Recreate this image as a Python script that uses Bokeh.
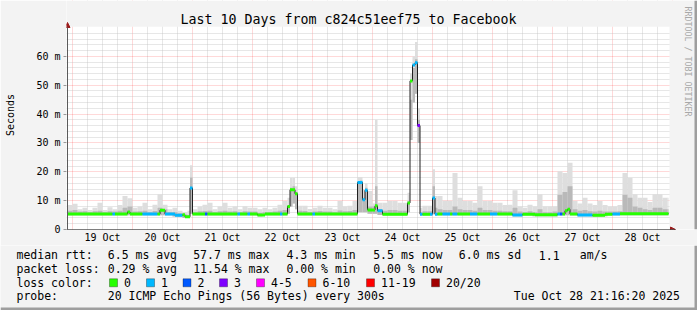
import datetime as dt
from bokeh.plotting import figure
from bokeh.models import (ColumnDataSource, FixedTicker, DatetimeTickFormatter, Label,
                          BoxAnnotation, Arrow, NormalHead, Range1d)
from bokeh.embed import file_html
from bokeh.resources import INLINE

# ---------------- data (hours relative to 19 Oct 2025 00:00) ----------------
# median RTT, stepped segments: start hour, value (ms), lost pings
med_t = [-2, 16, 17, 22, 23, 28, 34, 35, 37, 41, 44, 45, 47, 48, 53, 54, 66, 67, 70, 71,
         74, 77, 83, 84, 86, 87, 89, 90, 96, 97, 114, 116, 117, 118, 121, 122, 124, 134, 135, 136,
         137, 138, 139, 140, 143, 144, 145, 146, 148, 151, 152, 154, 159, 162, 167, 170, 176, 180, 185, 194,
         195, 196, 197, 198, 199, 202, 208, 213, 216, 219]
med_end = 238.4
med_val = [5.4, 5.4, 5.4, 6.1, 5.4, 5.4, 5.4, 6.7, 5.4, 4.9, 5.1, 4.4, 14.4, 5.4, 5.4, 5.4, 5.4, 5.4, 5.4, 5.4,
           5.0, 5.4, 5.4, 5.4, 8.0, 13.8, 12.4, 5.4, 5.4, 5.4, 16.3, 10.3, 13.6, 6.8, 8.2, 6.5, 5.3, 9.2, 51.5, 57.0,
           57.8, 36.0, 5.3, 5.3, 5.3, 10.9, 5.3, 5.4, 5.4, 5.4, 5.4, 5.4, 5.4, 5.4, 5.4, 5.4, 5.0, 5.3, 5.1, 5.4,
           5.4, 5.4, 6.5, 7.0, 5.4, 5.0, 4.9, 5.3, 5.4, 5.5]
med_loss = [0, 1, 0, 0, 0, 1, 0, 0, 1, 1, 0, 0, 1, 0, 2, 0, 1, 0, 1, 0,
            0, 0, 1, 0, 0, 0, 0, 0, 1, 0, 1, 1, 1, 0, 0, 1, 0, 0, 0, 1,
            1, 3, 1, 0, 1, 1, 1, 0, 1, 0, 1, 0, 1, 0, 1, 0, 1, 0, 0, 1,
            2, 0, 0, 0, 0, 1, 0, 0, 1, 0]

# smoke (ping spread): start hour, low, upper-quartile, max (ms)
smk_t = [-2, 0, 2, 4, 6, 8, 10, 12, 14, 16, 18, 20, 22, 24, 26, 28, 30, 32, 34, 36, 38, 40, 42, 44,
         46, 47, 48, 50, 52, 54, 56, 58, 60, 62, 64, 66, 68, 70, 72, 74, 76, 78, 80, 82, 84,
         86, 87, 88, 89, 90, 92, 94, 96, 98, 100, 102, 104, 106, 108, 110, 112, 114, 115, 116, 117, 118, 120, 121,
         122, 124, 126, 128, 130, 132, 134, 135, 136, 137, 138, 139, 140, 142, 144, 145, 146,
         148, 150, 152, 154, 156, 158, 160, 162, 164, 166, 168, 170, 172, 174, 176, 178, 180, 182, 184, 186,
         188, 190, 192, 194, 196, 198, 200, 202, 204, 206, 208, 210, 212, 214, 216, 218, 220, 222, 224, 226,
         228, 230, 232, 234, 236, 238]
smk_end = 238.4
smk_lo = [4.9, 4.9, 4.9, 4.9, 4.9, 4.9, 4.9, 4.9, 4.9, 4.9, 4.9, 4.9, 4.9, 4.9, 4.9, 4.9, 4.9, 4.9, 4.9, 4.9, 4.9, 4.5, 4.4, 4.0,
          4.0, 5.5, 4.9, 4.9, 4.9, 4.9, 4.9, 4.9, 4.9, 4.9, 4.9, 4.9, 4.9, 4.9, 4.9, 4.6, 4.9, 4.9, 4.9, 4.9, 4.9,
          5.5, 8.0, 9.0, 7.0, 4.9, 4.9, 4.9, 4.9, 4.9, 4.9, 4.9, 4.9, 4.9, 4.9, 4.9, 4.9, 6.0, 6.0, 6.0, 6.0, 5.5, 5.5, 5.5,
          5.0, 4.9, 4.9, 4.9, 4.9, 4.9, 6.0, 31.0, 44.0, 47.0, 30.0, 4.9, 4.9, 4.9, 5.3, 4.9, 4.9,
          4.9, 4.9, 4.9, 4.9, 4.9, 4.9, 4.9, 4.9, 4.9, 4.9, 4.9, 4.9, 4.9, 4.9, 4.6, 4.6, 4.9, 4.9, 4.6, 4.6,
          4.6, 4.6, 4.6, 4.9, 4.9, 4.9, 4.9, 4.6, 4.6, 4.6, 4.5, 4.5, 4.6, 4.9, 4.9, 4.9, 4.9, 4.9, 4.9, 4.9,
          4.9, 4.9, 4.9, 4.9, 4.9, 4.9]
smk_mid = [6.5, 6.8, 6.2, 6.3, 6.0, 6.3, 6.5, 6.0, 6.3, 6.2, 6.5, 7.5, 8.0, 6.2, 6.3, 6.5, 6.0, 6.4, 7.5, 7.0, 6.0, 6.0, 5.6, 5.2,
           5.0, 18.0, 6.0, 6.3, 6.4, 6.5, 6.0, 6.3, 6.5, 6.2, 6.3, 6.0, 6.3, 6.2, 6.2, 5.8, 6.0, 6.0, 6.2, 6.5, 6.8,
           8.5, 14.5, 15.0, 13.0, 6.5, 6.4, 6.0, 6.2, 6.4, 6.2, 6.2, 6.0, 6.6, 6.3, 6.4, 6.8, 16.0, 17.0, 11.0, 14.5, 8.0, 8.0, 15.0,
           7.0, 6.5, 6.8, 6.8, 6.5, 6.5, 10.0, 45.0, 56.0, 59.0, 38.0, 6.0, 6.3, 6.3, 15.0, 7.5, 7.0,
           6.8, 6.8, 8.0, 7.0, 6.8, 6.8, 6.5, 7.5, 6.8, 6.8, 6.5, 6.5, 6.3, 6.3, 7.5, 6.2, 6.0, 6.3, 6.0, 7.0,
           6.0, 6.0, 6.2, 12.0, 13.0, 15.0, 7.0, 6.5, 6.8, 6.3, 6.2, 6.5, 6.2, 6.2, 6.2, 6.3, 12.0, 11.0, 8.0, 7.5,
           7.0, 6.8, 7.5, 7.5, 7.0, 7.0]
smk_hi = [8.5, 8.9, 7.0, 7.5, 6.8, 7.5, 9.3, 6.8, 7.7, 7.0, 8.5, 11.6, 10.8, 7.5, 8.0, 9.3, 7.0, 8.6, 12.2, 8.6, 7.0, 7.5, 6.5, 6.0,
          6.5, 22.3, 7.0, 8.0, 8.6, 9.3, 7.0, 8.0, 9.3, 7.5, 8.0, 7.0, 8.1, 7.5, 7.5, 7.0, 7.5, 7.0, 7.5, 8.6, 9.9,
          11.0, 17.9, 17.9, 15.0, 8.2, 8.2, 7.1, 7.5, 8.2, 7.5, 7.5, 7.0, 9.9, 8.0, 8.2, 9.9, 18.2, 18.2, 14.0, 16.0, 13.3, 9.0, 38.0,
          9.3, 9.3, 9.9, 9.9, 9.3, 9.3, 12.7, 54.0, 60.0, 65.0, 42.0, 7.5, 8.2, 8.2, 20.9, 11.6, 11.6,
          10.0, 10.0, 19.6, 11.0, 9.9, 9.9, 9.3, 15.0, 9.9, 9.9, 9.3, 9.3, 8.5, 8.6, 13.6, 8.0, 7.5, 8.6, 8.0, 12.2,
          8.0, 8.0, 8.0, 20.2, 19.6, 23.1, 9.9, 9.0, 11.0, 9.0, 8.5, 9.9, 8.5, 8.0, 8.0, 8.5, 19.6, 17.9, 12.2, 11.0,
          11.0, 9.5, 12.2, 12.2, 11.0, 11.0]

day_labels_noon = [12 + 24 * d for d in range(10)]   # 19 Oct .. 28 Oct, at noon
y_ticks = [0, 10, 20, 30, 40, 50, 60]
y_tick_text = ["0", "10 m", "20 m", "30 m", "40 m", "50 m", "60 m"]

loss_labels = ["0", "1", "2", "3", "4-5", "6-10", "11-19", "20/20"]
loss_colors = ["#26ff00", "#00b8ff", "#0059ff", "#7e00ff", "#ff00ff", "#ff5500", "#ff0000", "#a10000"]

title_text = "Last 10 Days from c824c51eef75 to Facebook"
rtt_stats = ["6.5 ms avg", "57.7 ms max", "4.3 ms min", "5.5 ms now", "6.0 ms sd", "1.1", "am/s"]
loss_stats = ["0.29 % avg", "11.54 % max", "0.00 % min", "0.00 % now"]
probe_text = "20 ICMP Echo Pings (56 Bytes) every 300s"
stamp_text = "Tue Oct 28 21:16:20 2025"
watermark = "RRDTOOL / TOBI OETIKER"

# ---------------- helpers ----------------
EPOCH = dt.datetime(1970, 1, 1)
BASE = dt.datetime(2025, 10, 19)


def ms(h):
    return (BASE + dt.timedelta(hours=h) - EPOCH).total_seconds() * 1000.0


FONT = "DejaVu Sans Mono"
BG = "#f3f3f3"
EDGE = "#9e9e9e"
W, H_TOP, H_LEG = 697, 245, 65
FL, FR, FT, FB = 66, 697, 0, 229            # frame edges (canvas px) of the chart figure
PX_H = 2.5                                  # px per hour
PX_MS = 202.0 / 70.0                        # px per ms
h_first = -2.0                              # data start (x = 67 px)


def hx(px):          # canvas px -> hour
    return h_first + (px - 67) / PX_H


x_lo, x_hi = hx(FL), hx(FR)
y_hi = 70 + (27 - FT) / PX_MS

p = figure(width=W, height=H_TOP, x_axis_type="datetime", output_backend="svg", toolbar_location=None,
           x_range=Range1d(ms(x_lo), ms(x_hi)), y_range=Range1d(0, y_hi),
           min_border_left=FL, min_border_right=W - FR, min_border_top=FT, min_border_bottom=H_TOP - FB,
           background_fill_color="white", border_fill_color=BG, outline_line_color=None)

# grids
p.xgrid.ticker = FixedTicker(ticks=[ms(24 * d) for d in range(11)],
                             minor_ticks=[ms(h) for h in range(-6, 246, 6) if h % 24 != 0])
p.xgrid.grid_line_color = "#ff0000"
p.xgrid.grid_line_alpha = 0.3
p.xgrid.grid_line_dash = "1 1"
p.xgrid.minor_grid_line_color = "#bdbdbd"
p.xgrid.minor_grid_line_alpha = 0.75
p.xgrid.minor_grid_line_dash = "1 1"
p.ygrid.ticker = FixedTicker(ticks=[10, 20, 30, 40, 50, 60],
                             minor_ticks=[v for v in range(2, 72, 2) if v % 10 != 0])
p.ygrid.grid_line_color = "#ff0000"
p.ygrid.grid_line_alpha = 0.3
p.ygrid.grid_line_dash = "1 1"
p.ygrid.minor_grid_line_color = "#bdbdbd"
p.ygrid.minor_grid_line_alpha = 0.75
p.ygrid.minor_grid_line_dash = "1 1"

# smoke
smk_right = smk_t[1:] + [smk_end]
ssrc = ColumnDataSource(dict(left=[ms(t) for t in smk_t], right=[ms(t) for t in smk_right],
                             lo=smk_lo, mid=smk_mid, hi=smk_hi))
p.quad(left="left", right="right", bottom="lo", top="hi", source=ssrc,
       fill_color="#dedede", line_color=None)
p.quad(left="left", right="right", bottom="lo", top="mid", source=ssrc,
       fill_color="#b9b9b9", line_color=None)

# median line (black step) + loss coloured band
med_right = med_t[1:] + [med_end]
xs, ys = [], []
for a, b, v in zip(med_t, med_right, med_val):
    xs += [ms(a), ms(b)]
    ys += [v, v]
p.line(xs, ys, line_color="#202020", line_width=1)
msrc = ColumnDataSource(dict(x0=[ms(t) for t in med_t], x1=[ms(t) for t in med_right],
                             y=med_val, c=[loss_colors[l] for l in med_loss]))
p.segment(x0="x0", y0="y", x1="x1", y1="y", source=msrc, line_color="c", line_width=3)

# grey margins inside the frame (room for arrows, title and watermark)
p.add_layout(BoxAnnotation(bottom=70.25, fill_color=BG, fill_alpha=1, line_alpha=0))
p.add_layout(BoxAnnotation(left=ms(hx(669)), fill_color=BG, fill_alpha=1, line_alpha=0))
p.add_layout(BoxAnnotation(right=ms(hx(66.6)), fill_color=BG, fill_alpha=1, line_alpha=0))
p.add_layout(BoxAnnotation(left=ms(hx(W - 3)), fill_color=EDGE, fill_alpha=1, line_alpha=0))

# axis arrows
p.add_layout(Arrow(end=NormalHead(size=5, fill_color="#9b1c1c", line_color="#9b1c1c"),
                   x_start=ms(h_first), y_start=0, x_end=ms(h_first), y_end=70 + 5 / PX_MS,
                   line_color="#5a5a5a", line_width=1))
p.add_layout(Arrow(end=NormalHead(size=5, fill_color="#9b1c1c", line_color="#9b1c1c"),
                   x_start=ms(x_lo), y_start=0, x_end=ms(hx(675)), y_end=0,
                   line_color="#000000", line_width=1))

# axes
xa = p.xaxis[0]
xa.ticker = FixedTicker(ticks=[ms(h) for h in day_labels_noon])
xa.formatter = DatetimeTickFormatter(microseconds="%d %b", milliseconds="%d %b", seconds="%d %b",
                                     minsec="%d %b", minutes="%d %b", hourmin="%d %b", hours="%d %b",
                                     days="%d %b", months="%d %b", years="%d %b")
xa.major_tick_line_color = None
xa.minor_tick_line_color = None
xa.major_tick_out = 0
xa.major_tick_in = 0
xa.minor_tick_out = 0
xa.minor_tick_in = 0
xa.axis_line_color = None
xa.major_label_standoff = 2
xa.major_label_text_font = FONT
xa.major_label_text_font_size = "10px"
xa.major_label_text_color = "#000000"

ya = p.yaxis[0]
ya.ticker = FixedTicker(ticks=y_ticks)
ya.major_label_overrides = {t: s for t, s in zip(y_ticks, y_tick_text)}
ya.major_tick_in = 0
ya.major_tick_out = 3
ya.minor_tick_out = 0
ya.minor_tick_in = 0
ya.major_tick_line_color = "#999999"
ya.minor_tick_line_color = None
ya.axis_line_color = None
ya.major_label_standoff = 3
ya.major_label_text_font = FONT
ya.major_label_text_font_size = "10px"
ya.major_label_text_color = "#000000"
ya.axis_label = "Seconds"
ya.axis_label_text_font = FONT
ya.axis_label_text_font_size = "10px"
ya.axis_label_text_font_style = "normal"
ya.axis_label_text_color = "#000000"
ya.axis_label_standoff = 17


def plabel(x, y, text, size, color="#000000", align="left", angle=0):
    # x, y: canvas pixels; placed in frame-relative screen units
    p.add_layout(Label(x=x - FL, y=FB - y, x_units="screen", y_units="screen", text=text,
                       text_font=FONT, text_font_size=size, text_color=color,
                       text_align=align, text_baseline="middle", angle=angle, angle_units="deg"))


plabel(348, 19, title_text, "13.3px", align="center")
plabel(687, 61, watermark, "8.3px", color="#a8a8a8", align="center", angle=-90)

# ---------------- legend strip (its frame covers the whole canvas) ----------------
q = figure(width=W, height=H_LEG, output_backend="svg", toolbar_location=None,
           x_range=Range1d(0, W), y_range=Range1d(H_LEG, 0),
           x_axis_location=None, y_axis_location=None,
           min_border=0, min_border_left=0, min_border_right=0, min_border_top=0, min_border_bottom=0,
           background_fill_color=BG, border_fill_color=BG, outline_line_color=None)
q.grid.visible = False
Y0 = H_TOP


def label(x, y, text, size="11.5px"):
    q.add_layout(Label(x=x, y=y - Y0, text=text, text_font=FONT, text_font_size=size,
                       text_color="#000000", text_align="left", text_baseline="middle"))


rows_y = [254.7, 268.3, 282.3, 295.7]
label(16, rows_y[0], "median rtt:")
for x, s in zip([107.3, 192.7, 286, 372.7, 458.3, 538.3, 579.3], rtt_stats):
    label(x, rows_y[0], s)
label(16, rows_y[1], "packet loss:")
for x, s in zip([107.3, 192.7, 286, 372.7], loss_stats):
    label(x, rows_y[1], s)
label(16, rows_y[2], "loss color:")
for x, s, c in zip([109, 146, 182.5, 219, 256, 307.5, 366, 431], loss_labels, loss_colors):
    q.add_layout(BoxAnnotation(left=x, right=x + 8, top=rows_y[2] - 4 - Y0, bottom=rows_y[2] + 4 - Y0,
                               fill_color=c, fill_alpha=1, line_color="#000000", line_width=1))
    label(x + 14.5, rows_y[2], s)
label(16, rows_y[3], "probe:")
label(107.3, rows_y[3], probe_text)
label(513.3, rows_y[3], stamp_text)

# frame border of the whole image (bottom and right edges)
q.add_layout(BoxAnnotation(left=0, right=W, top=H_LEG - 3, bottom=H_LEG,
                           fill_color=EDGE, fill_alpha=1, line_alpha=0))
q.add_layout(BoxAnnotation(left=W - 3, right=W, top=0, bottom=H_LEG,
                           fill_color=EDGE, fill_alpha=1, line_alpha=0))

open("out.html", "w").write(file_html([p, q], INLINE))
